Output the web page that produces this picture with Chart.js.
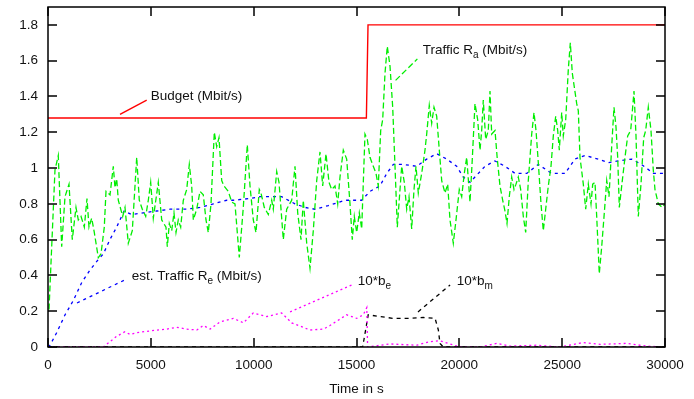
<!DOCTYPE html>
<html>
<head>
<meta charset="utf-8">
<script src="https://cdn.jsdelivr.net/npm/chart.js@4/dist/chart.umd.min.js"></script>
<style>
  html, body { margin: 0; padding: 0; background: #fff; }
  #c { display: block; }
</style>
</head>
<body>
<canvas id="c" width="694" height="399"></canvas>
<script>
// ---- axis ticks ----
const xTicks = [0, 5000, 10000, 15000, 20000, 25000, 30000];
const xTickLabels = ['0', '5000', '10000', '15000', '20000', '25000', '30000'];
const yTicks = [0, 0.2, 0.4, 0.6, 0.8, 1.0, 1.2, 1.4, 1.6, 1.8];
const yTickLabels = ['0', '0.2', '0.4', '0.6', '0.8', '1', '1.2', '1.4', '1.6', '1.8'];

// ---- budget (Mbit/s) ----
const budgetTime = [0, 15480, 15560, 30000];
const budgetRate = [1.28, 1.28, 1.8, 1.8];

// ---- traffic R_a (Mbit/s) ----
const trafficTime = [
  49, 340, 500, 666, 827, 1021, 1181, 1361, 1473, 1605, 1765, 1896, 1993, 2125, 2251, 2446, 2577, 2737, 2820, 3015,
  3175, 3258, 3340, 3418, 3632, 3744, 3904, 4099, 4313, 4439, 4585, 4750, 4877, 4993, 5120, 5363, 5529, 5737, 5801, 5898,
  6015, 6126, 6224, 6335, 6452, 6579, 6744, 6870, 6987, 7065, 7230, 7391, 7551, 7682, 7794, 7925, 8086, 8203, 8314, 8446,
  8557, 8767, 8932, 9092, 9301, 9496, 9690, 9822, 9982, 10113, 10274, 10356, 10517, 10711, 10877, 10954, 11120, 11232, 11441, 11606,
  11849, 12010, 12141, 12301, 12413, 12579, 12739, 12899, 13065, 13225, 13356, 13517, 13663, 13794, 13955, 14086, 14198, 14358, 14523, 14684,
  14795, 14893, 15009, 15136, 15253, 15413, 15525, 15656, 15816, 15948, 16060, 16176, 16273, 16386, 16497, 16629, 16760, 16872, 16984, 17115,
  17198, 17324, 17441, 17553, 17684, 17796, 17893, 18005, 18170, 18330, 18413, 18539, 18656, 18768, 18899, 19026, 19143, 19303, 19434, 19546,
  19707, 19838, 19998, 20115, 20241, 20358, 20518, 20630, 20761, 20892, 21005, 21087, 21165, 21282, 21408, 21491, 21574, 21734, 21846, 21977,
  22109, 22220, 22318, 22429, 22546, 22658, 22755, 22867, 22984, 23110, 23227, 23353, 23519, 23630, 23728, 23840, 23971, 24083, 24199, 24326,
  24457, 24569, 24686, 24783, 24861, 24977, 25055, 25172, 25298, 25396, 25493, 25707, 25785, 25867, 26028, 26144, 26271, 26402, 26485, 26596,
  26679, 26805, 26922, 27049, 27166, 27277, 27408, 27520, 27617, 27700, 27778, 27924, 28055, 28186, 28332, 28493, 28590, 28702, 28833, 28964,
  29061, 29188, 29319, 29430, 29513, 29674, 29868, 30000
];
const trafficRate = [
  0.21, 0.99, 1.07, 0.56, 0.84, 0.91, 0.60, 0.78, 0.71, 0.73, 0.67, 0.83, 0.67, 0.72, 0.64, 0.50, 0.52, 0.67, 0.87, 0.85,
  1.01, 0.89, 0.94, 0.82, 0.73, 0.78, 0.58, 0.65, 1.06, 0.82, 0.77, 0.73, 0.82, 0.92, 0.72, 0.92, 0.71, 0.67, 0.56, 0.69,
  0.65, 0.75, 0.64, 0.71, 0.67, 0.82, 0.88, 1.02, 0.90, 0.71, 0.77, 0.87, 0.85, 0.71, 0.64, 0.80, 1.20, 1.12, 1.17, 0.93,
  0.90, 0.87, 0.81, 0.80, 0.50, 0.78, 1.13, 0.90, 0.71, 0.64, 0.88, 0.86, 0.78, 0.74, 0.82, 0.77, 0.98, 0.92, 0.60, 0.77,
  0.82, 1.01, 0.75, 0.60, 0.82, 0.58, 0.44, 0.65, 0.93, 1.09, 0.90, 1.08, 0.92, 0.88, 0.90, 0.80, 0.95, 1.10, 1.05, 0.80,
  0.60, 0.73, 0.64, 0.75, 0.66, 1.19, 1.16, 1.06, 1.01, 0.97, 0.90, 1.21, 1.27, 1.53, 1.68, 1.57, 1.34, 1.01, 0.67, 0.88,
  1.01, 0.92, 0.77, 0.84, 0.66, 0.88, 1.01, 0.86, 0.97, 1.10, 1.19, 1.35, 1.25, 1.34, 1.29, 1.10, 0.93, 0.86, 0.91, 0.71,
  0.58, 0.71, 0.88, 0.84, 0.97, 1.06, 0.81, 1.05, 1.36, 1.27, 1.10, 1.21, 1.38, 1.16, 1.21, 1.43, 1.19, 1.21, 1.05, 0.90,
  0.82, 0.76, 0.69, 0.84, 0.95, 0.88, 0.91, 0.95, 0.88, 0.73, 0.64, 0.93, 1.19, 1.31, 1.21, 1.03, 0.80, 0.65, 0.77, 0.90,
  1.01, 1.18, 1.29, 1.21, 1.10, 1.31, 1.18, 1.27, 1.55, 1.70, 1.53, 1.36, 1.32, 1.06, 0.91, 0.77, 0.91, 0.80, 0.91, 0.92,
  0.73, 0.41, 0.56, 0.75, 0.93, 0.84, 1.12, 1.34, 1.23, 1.06, 0.78, 0.93, 1.06, 1.18, 1.21, 1.43, 1.18, 0.73, 0.91, 1.17,
  1.21, 1.34, 1.21, 0.99, 0.88, 0.80, 0.78, 0.80
];

// ---- estimated traffic R_e (Mbit/s) ----
const estTime = [
  0, 100, 420, 830, 1230, 1640, 2040, 2450, 2690, 3010, 3340, 3700, 4070, 4630, 5290, 5930, 6740, 7390, 8040, 8690,
  9010, 9820, 10310, 11360, 12010, 12500, 12980, 13630, 14440, 15250, 15660, 16140, 16470, 16790, 17280, 17930, 18410, 18900, 19390, 19870,
  20190, 20520, 20760, 21250, 21730, 22220, 22710, 23280, 23840, 24490, 25140, 25620, 26110, 26760, 27240, 27730, 28380, 28860, 29440, 29830, 30000
];
const estRate = [
  0, 0.01, 0.08, 0.18, 0.26, 0.36, 0.43, 0.49, 0.52, 0.60, 0.67, 0.76, 0.74, 0.75, 0.76, 0.77, 0.77, 0.78, 0.80, 0.82,
  0.82, 0.83, 0.84, 0.84, 0.80, 0.78, 0.77, 0.79, 0.82, 0.82, 0.87, 0.90, 0.97, 1.02, 1.02, 1.01, 1.05, 1.08, 1.05, 1.01,
  0.95, 0.92, 0.95, 1.01, 1.04, 1.01, 0.97, 0.97, 1.02, 0.97, 0.97, 1.05, 1.07, 1.05, 1.03, 1.04, 1.05, 1.02, 0.97, 0.97, 0.97
];

// ---- 10*b_e ----
const beTime = [
  0, 2690, 3340, 3740, 3990, 4310, 4960, 5770, 6260, 6740, 7230, 7550, 7880, 8360, 9010, 9500, 9980, 10630, 11360, 11850,
  12740, 13390, 13710, 14520, 15010, 15330, 15500, 15540, 16630, 17930, 18570, 19060, 19550, 20030, 21000, 21820, 22460, 23760, 24890, 26030,
  26840, 28140, 29110, 29920, 30000
];
const beValue = [
  0, 0, 0.06, 0.085, 0.07, 0.08, 0.09, 0.10, 0.11, 0.10, 0.095, 0.12, 0.10, 0.14, 0.16, 0.135, 0.19, 0.17, 0.19, 0.135,
  0.095, 0.10, 0.12, 0.18, 0.16, 0.18, 0.22, 0, 0.017, 0.01, 0.03, 0.035, 0.017, 0, 0, 0.02, 0.005, 0.01, 0, 0.025,
  0.015, 0.02, 0.005, 0, 0
];

// ---- 10*b_m ----
const bmTime = [0, 15300, 15570, 16140, 16790, 17600, 18250, 18820, 18980, 19060, 19220, 30000];
const bmValue = [0, 0, 0.18, 0.17, 0.16, 0.16, 0.165, 0.16, 0.095, 0.02, 0, 0];

const FONT = '"Liberation Sans", Arial, Helvetica, sans-serif';
const TEXT = '#111';
const FS = 13.5;

const pts = (xs, ys) => xs.map((t, i) => ({ x: t, y: ys[i] }));

function series(xs, ys, color, dash, width) {
  return {
    data: pts(xs, ys),
    borderColor: color,
    borderWidth: width,
    borderDash: dash,
    pointRadius: 0,
    tension: 0,
    fill: false
  };
}

// Key texts with their leader lines, placed in data units.
const notes = [
  { parts: [['Budget (Mbit/s)', 0]], at: [5000, 1.40], from: [3500, 1.30], to: [4800, 1.38], color: '#ff0000', dash: [] },
  { parts: [['Traffic R', 0], ['a', 1], [' (Mbit/s)', 0]], at: [18220, 1.66], from: [16900, 1.49], to: [17960, 1.61], color: '#00ee00', dash: [6, 3] },
  { parts: [['est. Traffic R', 0], ['e', 1], [' (Mbit/s)', 0]], at: [4070, 0.393], from: [1410, 0.246], to: [3740, 0.375], color: '#0000ff', dash: [3, 4] },
  { parts: [['10*b', 0], ['e', 1]], at: [15060, 0.37], from: [11770, 0.196], to: [14780, 0.347], color: '#ff00ff', dash: [2, 3] },
  { parts: [['10*b', 0], ['m', 1]], at: [19870, 0.37], from: [17990, 0.196], to: [19550, 0.347], color: '#000000', dash: [4, 4] }
];

const framePlugin = {
  id: 'frame',
  afterDatasetsDraw(chart) {
    const { ctx, chartArea: a, scales: { x, y } } = chart;
    ctx.save();

    // leader lines and key texts
    notes.forEach(n => {
      ctx.strokeStyle = n.color;
      ctx.lineWidth = 1.3;
      ctx.setLineDash(n.dash);
      ctx.beginPath();
      ctx.moveTo(x.getPixelForValue(n.from[0]), y.getPixelForValue(n.from[1]));
      ctx.lineTo(x.getPixelForValue(n.to[0]), y.getPixelForValue(n.to[1]));
      ctx.stroke();
      ctx.setLineDash([]);
      let px = x.getPixelForValue(n.at[0]);
      const py = y.getPixelForValue(n.at[1]);
      ctx.fillStyle = TEXT;
      ctx.textAlign = 'left';
      ctx.textBaseline = 'middle';
      n.parts.forEach(([s, sub]) => {
        ctx.font = (sub ? '10px ' : FS + 'px ') + FONT;
        ctx.fillText(s, px, sub ? py + 5 : py);
        px += ctx.measureText(s).width;
      });
    });

    // inward tick marks on all four sides, then the frame
    ctx.strokeStyle = '#000';
    ctx.lineWidth = 1.5;
    ctx.beginPath();
    xTicks.forEach(v => {
      const p = Math.round(x.getPixelForValue(v));
      ctx.moveTo(p, a.bottom); ctx.lineTo(p, a.bottom - 9);
      ctx.moveTo(p, a.top); ctx.lineTo(p, a.top + 9);
    });
    yTicks.forEach(v => {
      const p = Math.round(y.getPixelForValue(v));
      ctx.moveTo(a.left, p); ctx.lineTo(a.left + 9, p);
      ctx.moveTo(a.right, p); ctx.lineTo(a.right - 9, p);
    });
    ctx.stroke();
    ctx.strokeRect(a.left, a.top, a.right - a.left, a.bottom - a.top);
    ctx.restore();
  }
};

new Chart(document.getElementById('c'), {
  type: 'line',
  data: {
    datasets: [
      series(budgetTime, budgetRate, '#ff0000', [], 1.4),
      series(trafficTime, trafficRate, '#00ee00', [6, 3], 1.3),
      series(estTime, estRate, '#0000ff', [3, 4], 1.3),
      series(beTime, beValue, '#ff00ff', [2, 3], 1.3),
      series(bmTime, bmValue, '#000000', [4, 4], 1.3)
    ]
  },
  options: {
    responsive: false,
    animation: false,
    events: [],
    layout: { padding: { top: 7, right: 29, left: 0, bottom: 0 } },
    plugins: { legend: { display: false }, tooltip: { enabled: false }, title: { display: false } },
    scales: {
      x: {
        type: 'linear',
        min: 0,
        max: 30000,
        afterFit(s) { s.height = 52; s.paddingLeft = 0; s.paddingRight = 0; },
        afterBuildTicks(s) { s.ticks = xTicks.map(v => ({ value: v })); },
        grid: { display: false, drawTicks: false },
        border: { display: false },
        ticks: {
          padding: 10,
          maxRotation: 0,
          autoSkip: false,
          color: TEXT,
          font: { family: FONT, size: FS },
          callback: (v, i) => xTickLabels[i]
        },
        title: {
          display: true,
          text: 'Time in s',
          color: TEXT,
          font: { family: FONT, size: FS },
          padding: { top: 0, bottom: 2 }
        }
      },
      y: {
        type: 'linear',
        min: 0,
        max: 1.9,
        afterFit(s) { s.width = 48; s.paddingTop = 0; s.paddingBottom = 0; },
        afterBuildTicks(s) { s.ticks = yTicks.map(v => ({ value: v })); },
        grid: { display: false, drawTicks: false },
        border: { display: false },
        ticks: {
          padding: 10,
          autoSkip: false,
          color: TEXT,
          font: { family: FONT, size: FS },
          callback: (v, i) => yTickLabels[i]
        }
      }
    }
  },
  plugins: [framePlugin]
});
</script>
</body>
</html>
